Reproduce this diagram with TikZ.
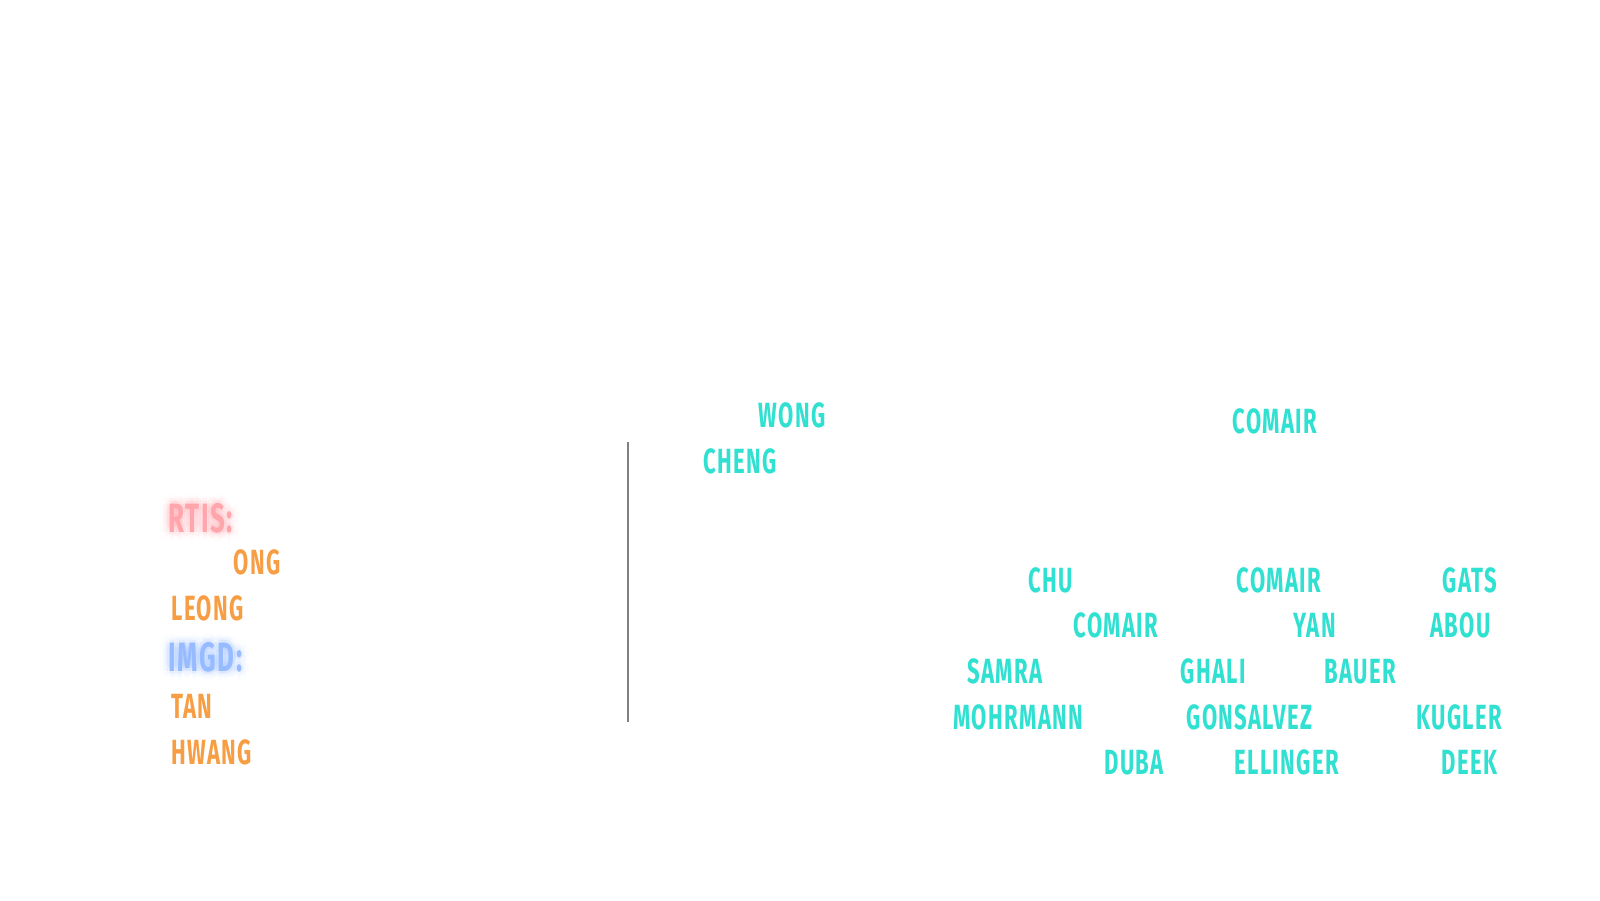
\documentclass[tikz,border=0pt]{standalone}
\usepackage{fontspec}
\newfontfamily\namefont{Fira Sans Bold}[FakeStretch=0.63, LetterSpace=4]
\usepackage{tikz}
\usetikzlibrary{calc}
\definecolor{tealname}{RGB}{48,224,208}
\definecolor{orangename}{RGB}{247,158,68}
\definecolor{rtistext}{RGB}{255,165,172}
\definecolor{rtisglow}{RGB}{255,110,125}
\definecolor{imgdtext}{RGB}{150,188,255}
\definecolor{imgdglow}{RGB}{95,150,255}
\tikzset{
  namebase/.style={anchor=base west, inner sep=0pt, font=\namefont\fontsize{17.5}{20}\selectfont},
  teamname/.style={namebase, text=tealname},
  deptname/.style={namebase, text=orangename},
  headbase/.style={anchor=base west, inner sep=0pt, font=\namefont\fontsize{20.5}{24}\selectfont},
}
\begin{document}
\begin{tikzpicture}[x=0.5pt, y=-0.5pt]
\useasboundingbox (0,0) rectangle (1600,900);
% Headings: copies spread round the text give the soft glow
\foreach \r/\op in {9/0.02, 6/0.035, 3/0.05} {
  \foreach \a in {0,45,...,315} {
    \node[headbase, text=rtisglow, opacity=\op] (rtisglow-\r-\a) at ($(168,532)+(\a:\r)$) {RTIS:};
    \node[headbase, text=imgdglow, opacity=\op] (imgdglow-\r-\a) at ($(168,671)+(\a:\r)$) {IMGD:};
  }
}
\node[headbase, text=rtistext] (rtis) at (168,532) {RTIS:};
\node[headbase, text=imgdtext] (imgd) at (168,671) {IMGD:};
% Left column
\node[deptname] (ong) at (233,574) {ONG};
\node[deptname] (leong) at (171,620) {LEONG};
\node[deptname] (tan) at (171,718) {TAN};
\node[deptname] (hwang) at (171,764) {HWANG};
% Divider
\coordinate (divtop) at (628,442);
\coordinate (divbot) at (628,722);
\draw[gray, line width=0.75pt] (divtop) -- (divbot);
% Upper names
\node[teamname] (wong) at (758,427) {WONG};
\node[teamname] (cheng) at (703,473) {CHENG};
\node[teamname] (comairtop) at (1232,433) {COMAIR};
% Lower grid of names
\node[teamname] (chu) at (1028,592) {CHU};
\node[teamname] (comaira) at (1236,592) {COMAIR};
\node[teamname] (gats) at (1442,592) {GATS};
\node[teamname] (comairb) at (1073,637) {COMAIR};
\node[teamname] (yan) at (1293,637) {YAN};
\node[teamname] (abou) at (1430,637) {ABOU};
\node[teamname] (samra) at (967,683) {SAMRA};
\node[teamname] (ghali) at (1180,683) {GHALI};
\node[teamname] (bauer) at (1324,683) {BAUER};
\node[teamname] (mohrmann) at (953,729) {MOHRMANN};
\node[teamname] (gonsalvez) at (1186,729) {GONSALVEZ};
\node[teamname] (kugler) at (1416,729) {KUGLER};
\node[teamname] (duba) at (1104,774) {DUBA};
\node[teamname] (ellinger) at (1234,774) {ELLINGER};
\node[teamname] (deek) at (1441,774) {DEEK};
\end{tikzpicture}
\end{document}
